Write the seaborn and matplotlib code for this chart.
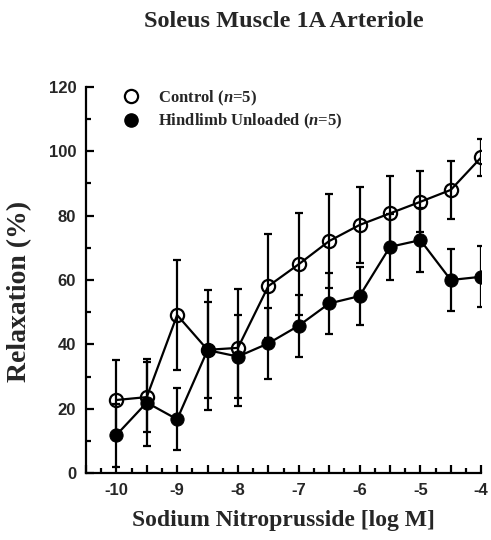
import numpy as np
import pandas as pd
import seaborn as sns
import matplotlib.pyplot as plt
from matplotlib.ticker import MultipleLocator, FuncFormatter
from matplotlib.lines import Line2D

# log M concentrations
conc = [-10, -9.5, -9, -8.5, -8, -7.5, -7, -6.5, -6, -5.5, -5, -4.5, -4]

control_mean = [22.7, 23.6, 49.1, 38.3, 38.9, 58.1, 64.9, 72.1, 77.1, 80.7, 84.3, 88.0, 98.1]
control_err = [12.4, 10.9, 17.1, 15.0, 18.2, 16.1, 15.8, 14.5, 11.9, 11.7, 9.5, 9.0, 5.8]

hu_mean = [11.8, 21.9, 16.7, 38.2, 36.2, 40.3, 45.8, 52.7, 55.0, 70.3, 72.4, 60.0, 61.0]
hu_err = [9.8, 13.4, 9.6, 18.7, 12.9, 11.0, 9.6, 9.6, 9.0, 10.3, 10.0, 9.5, 9.5]

sns.set_theme(style="ticks")
plt.rcParams["font.family"] = ["Liberation Sans", "DejaVu Sans"]
plt.rcParams["mathtext.fontset"] = "custom"
plt.rcParams["mathtext.it"] = "Liberation Serif:italic:bold"
plt.rcParams["mathtext.rm"] = "Liberation Serif:bold"

df = pd.concat([
    pd.DataFrame({"logM": conc, "Relaxation": control_mean, "group": "Control"}),
    pd.DataFrame({"logM": conc, "Relaxation": hu_mean, "group": "Hindlimb Unloaded"}),
], ignore_index=True)

fig = plt.figure(figsize=(4.91, 5.40), dpi=100)
ax = fig.add_axes([0.175, 0.124, 0.805, 0.715])

lw = 1.6
# error bars
ax.errorbar(conc, control_mean, yerr=control_err, fmt="none", ecolor="black",
            elinewidth=lw, capsize=3, capthick=lw, zorder=2)
ax.errorbar(conc, hu_mean, yerr=hu_err, fmt="none", ecolor="black",
            elinewidth=lw, capsize=3, capthick=lw, zorder=2)

# lines with markers
sns.lineplot(data=df[df.group == "Control"], x="logM", y="Relaxation", ax=ax,
             color="black", lw=lw, marker="o", markersize=9.5,
             markerfacecolor="none", markeredgecolor="black", markeredgewidth=1.6,
             zorder=3)
sns.lineplot(data=df[df.group == "Hindlimb Unloaded"], x="logM", y="Relaxation", ax=ax,
             color="black", lw=lw, marker="o", markersize=9.5,
             markerfacecolor="black", markeredgecolor="black", zorder=4)

ax.set_xlim(-10.5, -4)
ax.set_ylim(0, 120)
ax.xaxis.set_major_locator(MultipleLocator(0.5))
ax.xaxis.set_minor_locator(MultipleLocator(0.25))
ax.xaxis.set_major_formatter(FuncFormatter(lambda v, p: "%d" % v if abs(v - round(v)) < 1e-6 else ""))
ax.yaxis.set_major_locator(MultipleLocator(20))
ax.yaxis.set_minor_locator(MultipleLocator(10))

ax.tick_params(axis="both", which="both", direction="in", color="black", width=1.6)
ax.tick_params(axis="both", which="major", length=6, labelsize=12, pad=7)
ax.tick_params(axis="both", which="minor", length=3.5)
for lab in ax.get_xticklabels() + ax.get_yticklabels():
    lab.set_fontweight("bold")

sns.despine(ax=ax)
for s in ["left", "bottom"]:
    ax.spines[s].set_linewidth(1.6)
    ax.spines[s].set_color("black")

ax.set_xlabel("Sodium Nitroprusside [log M]", family="Liberation Serif",
              fontweight="bold", fontsize=17)
ax.xaxis.set_label_coords(0.5, -0.095)
ax.set_ylabel("Relaxation (%)", family="Liberation Serif",
              fontweight="bold", fontsize=20)
ax.yaxis.set_label_coords(-0.135, 0.47)
ax.set_title("Soleus Muscle 1A Arteriole", family="Liberation Serif",
             fontweight="bold", fontsize=17.5, pad=43)

handles = [
    Line2D([], [], ls="none", marker="o", markersize=9.5, markerfacecolor="none",
           markeredgecolor="black", markeredgewidth=1.6),
    Line2D([], [], ls="none", marker="o", markersize=9.5, markerfacecolor="black",
           markeredgecolor="black"),
]
leg = ax.legend(handles, ["Control ($\\mathit{n}$=5)", "Hindlimb Unloaded ($\\mathit{n}$=5)"],
                loc="upper left", bbox_to_anchor=(0.035, 1.035), frameon=False,
                handletextpad=0.6, labelspacing=0.25,
                prop={"family": "Liberation Serif", "weight": "bold", "size": 12})

fig.savefig("out.png", dpi=100)
